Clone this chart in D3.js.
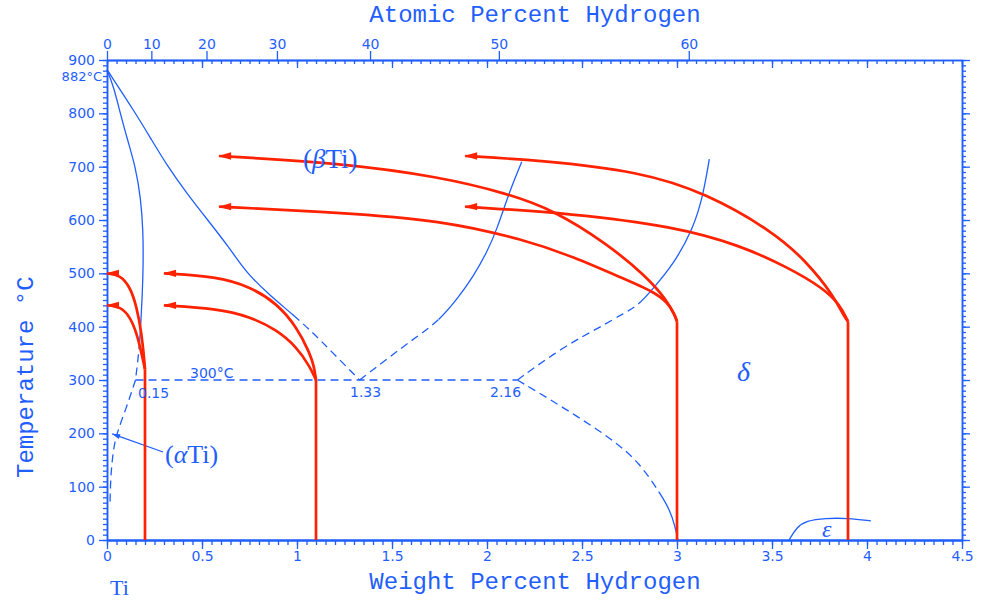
<!DOCTYPE html>
<html><head><meta charset="utf-8">
<script src="https://cdn.jsdelivr.net/npm/d3@7"></script>
<style>body{margin:0;background:#fff}</style>
</head><body><svg id="c" width="984" height="600"></svg>
<script>
// ---------- data ----------
const wtTicks = [0, 0.5, 1, 1.5, 2, 2.5, 3, 3.5, 4, 4.5];
const tempTicks = [0, 100, 200, 300, 400, 500, 600, 700, 800, 900];
const atTicks = [0, 10, 20, 30, 40, 50, 60];
const massH = 1.008, massTi = 47.867;

// phase boundaries [wt% H, °C]; the index says where solid/dashed style changes
const alphaBoundary = [[0,882],[0.035,850],[0.07,800],[0.108,750],[0.15,700],[0.178,640],[0.19,580],[0.191,520],[0.186,460],[0.177,400],[0.172,372],[0.162,335],[0.15,300]];
const alphaSplit = 10;
const betaBoundary = [[0,882],[0.151,800],[0.235,750],[0.32,700],[0.42,650],[0.53,600],[0.64,550],[0.735,500],[0.86,458],[0.98,422],[1.08,390],[1.174,356],[1.33,300]];
const betaSplit = 9;
const bdLeft = [[1.33,300],[1.49,344],[1.63,381],[1.75,412],[1.85,455],[1.928,494],[2.0,540],[2.051,581],[2.121,656],[2.183,709]];
const bdLeftSplit = 3;
const bdRight = [[2.16,300],[2.4,362],[2.6,400],[2.72,425],[2.8,441],[2.875,472],[2.98,516],[3.086,584],[3.138,647],[3.17,714]];
const bdRightSplit = 4;
const deltaLow = [[2.16,300],[2.4,249],[2.665,188],[2.805,144],[2.91,88],[2.963,56],[2.99,25],[3.005,0]];
const deltaLowSplit = 4;
const alphaSolvusDash = [[0.15,300],[0.104,250],[0.051,200],[0.033,169],[0.019,119],[0.016,69]];
const eutectoid = [[0.15,300],[2.16,300]];
const epsilon = [[3.59,0],[3.63,24],[3.68,36],[3.78,41],[3.9,41],[4.02,36]];

// red paths: vertical stems and curved branches ending in arrows
const stems = [[0.2,320],[1.1,300],[3.0,410],[3.9,410]];
const branches = [
  [[0.2,320],[0.196,338],[0.182,388],[0.156,438],[0.121,475],[0.068,497],[0,500]],
  [[0.2,320],[0.182,350],[0.156,388],[0.121,419],[0.068,438],[0,440]],
  [[1.1,300],[1.09,325],[1.068,350],[0.998,400],[0.893,444],[0.753,475],[0.577,494],[0.3,500]],
  [[1.1,300],[1.068,325],[0.998,362],[0.893,394],[0.753,419],[0.577,434],[0.3,440]],
  [[3.0,410],[2.99,420],[2.946,450],[2.84,494],[2.63,556],[2.349,619],[2.104,650],[1.753,681],[1.226,707],[0.59,720]],
  [[3.0,410],[2.985,425],[2.95,445],[2.88,465],[2.718,490],[2.454,531],[2.2,563],[1.753,600],[1.226,614],[0.59,625]],
  [[3.9,410],[3.884,416],[3.823,459],[3.682,522],[3.507,578],[3.156,650],[2.805,691],[2.279,712],[1.885,720]],
  [[3.9,410],[3.858,441],[3.77,472],[3.595,509],[3.332,553],[2.981,588],[2.454,612],[1.885,625]]
];
const alphaPointer = [[0.295,165],[0.027,199]];

// ---------- drawing ----------
const BLUE = "#1f5eff", RED = "#ff2200";
const svg = d3.select("#c");
const x = d3.scaleLinear().domain([0, 4.5]).range([107, 962]);
const y = d3.scaleLinear().domain([0, 900]).range([540, 60]);
const wtFromAt = a => a * massH / (a * massH + (100 - a) * massTi) * 100;
const xa = d3.scaleLinear().domain(atTicks).range(atTicks.map(a => x(wtFromAt(a))));

function style(g, w) {
  g.select(".domain").attr("stroke", BLUE).attr("stroke-width", w);
  g.selectAll(".tick line").attr("stroke", BLUE).attr("stroke-width", 1.3);
  g.selectAll("text").attr("fill", BLUE).attr("font-family", "DejaVu Sans").attr("font-size", 14);
}
// bottom
svg.append("g").attr("transform", "translate(0,540)")
  .call(d3.axisBottom(x).tickValues(x.ticks(90)).tickSize(5).tickFormat("").tickSizeOuter(0)).call(style, 2);
svg.append("g").attr("transform", "translate(0,540)")
  .call(d3.axisBottom(x).tickValues(wtTicks).tickSize(9).tickPadding(2).tickFormat(d => d).tickSizeOuter(0)).call(style, 2);
// top (inner wt ticks)
svg.append("g").attr("transform", "translate(0,60)")
  .call(d3.axisBottom(x).tickValues(x.ticks(90)).tickSize(4).tickFormat("").tickSizeOuter(0)).call(style, 1.5);
svg.append("g").attr("transform", "translate(0,60)")
  .call(d3.axisBottom(x).tickValues(wtTicks).tickSize(8).tickFormat("").tickSizeOuter(0)).call(style, 1.5);
// top atomic percent
svg.append("g").attr("transform", "translate(0,60)")
  .call(d3.axisTop(xa).tickValues(atTicks).tickSize(9).tickPadding(2).tickFormat(d => d).tickSizeOuter(0)).call(style, 1.5);
// left
svg.append("g").attr("transform", "translate(107,0)")
  .call(d3.axisLeft(y).tickValues(y.ticks(90)).tickSize(4).tickFormat("").tickSizeOuter(0)).call(style, 1.5);
svg.append("g").attr("transform", "translate(107,0)")
  .call(d3.axisLeft(y).tickValues(tempTicks).tickSize(8).tickPadding(4).tickFormat(d => d).tickSizeOuter(0)).call(style, 1.5);
// right
svg.append("g").attr("transform", "translate(962,0)")
  .call(d3.axisRight(y).tickValues(y.ticks(90)).tickSize(4).tickFormat("").tickSizeOuter(0)).call(style, 1.5);
svg.append("g").attr("transform", "translate(962,0)")
  .call(d3.axisRight(y).tickValues(tempTicks).tickSize(8).tickFormat("").tickSizeOuter(0)).call(style, 1.5);

// blue phase lines
const lineS = d3.line().x(d => x(d[0])).y(d => y(d[1])).curve(d3.curveBasis);
const lineL = d3.line().x(d => x(d[0])).y(d => y(d[1]));
const gB = svg.append("g");
function mixed(points, split, dashFirst) {
  const p = gB.append("path").datum(points).attr("d", lineS).attr("fill", "none")
    .attr("stroke", BLUE).attr("stroke-width", 1.3);
  const node = p.node(), L = node.getTotalLength();
  const tx = x(points[split][0]), ty = y(points[split][1]);
  let best = 0, bd = Infinity;
  for (let s = 0; s <= L; s += 0.5) {
    const q = node.getPointAtLength(s);
    const d = (q.x - tx) ** 2 + (q.y - ty) ** 2;
    if (d < bd) { bd = d; best = s; }
  }
  const arr = [];
  if (dashFirst) {
    let s = 0;
    while (s + 13 <= best) { arr.push(8, 5); s += 13; }
    const r = best - s;
    arr.push(Math.min(r, 8), Math.max(r - 8, 0), L + 20, 0);
  } else {
    arr.push(best, 0);
    let s = best;
    while (s < L + 13) { arr.push(8, 5); s += 13; }
  }
  p.attr("stroke-dasharray", arr.join(","));
}
mixed(alphaBoundary, alphaSplit, false);
mixed(betaBoundary, betaSplit, false);
mixed(bdLeft, bdLeftSplit, true);
mixed(bdRight, bdRightSplit, true);
mixed(deltaLow, deltaLowSplit, true);
gB.selectAll(".dash").data([alphaSolvusDash, eutectoid]).join("path").attr("class", "dash")
  .attr("d", lineS).attr("fill", "none").attr("stroke", BLUE).attr("stroke-width", 1.3).attr("stroke-dasharray", "8,5");
gB.append("path").datum(epsilon).attr("d", lineS).attr("fill", "none").attr("stroke", BLUE).attr("stroke-width", 1.3);

// pointer arrow for (alphaTi)
const defs = svg.append("defs");
defs.append("marker").attr("id", "bh").attr("markerUnits", "userSpaceOnUse")
  .attr("viewBox", "0 0 10 8").attr("markerWidth", 10).attr("markerHeight", 8)
  .attr("refX", 9).attr("refY", 4).attr("orient", "auto")
  .append("path").attr("d", "M1,1.5 L9,4 L1,6.5 Z").attr("fill", BLUE);
svg.append("path").datum(alphaPointer).attr("d", lineL).attr("fill", "none")
  .attr("stroke", BLUE).attr("stroke-width", 1.2).attr("marker-end", "url(#bh)");

// red paths
defs.append("marker").attr("id", "rh").attr("markerUnits", "userSpaceOnUse")
  .attr("viewBox", "0 0 16 12").attr("markerWidth", 16).attr("markerHeight", 12)
  .attr("refX", 1).attr("refY", 6).attr("orient", "0")
  .append("path").attr("d", "M0,6 L13,2.3 L13,9.7 Z").attr("fill", RED);
svg.append("g").selectAll("line").data(stems).join("line")
  .attr("x1", d => x(d[0])).attr("x2", d => x(d[0]))
  .attr("y1", y(0)).attr("y2", d => y(d[1]))
  .attr("stroke", RED).attr("stroke-width", 2.7);
svg.append("g").selectAll("path").data(branches).join("path")
  .attr("d", lineS).attr("fill", "none").attr("stroke", RED).attr("stroke-width", 2.7)
  .attr("marker-end", "url(#rh)");

// texts
const t = (txt, px, py, o = {}) => svg.append("text").attr("x", px).attr("y", py)
  .attr("fill", BLUE).attr("font-family", o.f || "DejaVu Sans").attr("font-size", o.s || 14)
  .attr("text-anchor", o.a || "start").text(txt);
t("Atomic Percent Hydrogen", 535, 22, {f: "Liberation Mono", s: 24, a: "middle"});
t("Weight Percent Hydrogen", 535, 589, {f: "Liberation Mono", s: 24, a: "middle"});
svg.append("text").attr("transform", "translate(33,478) rotate(-90)")
  .attr("fill", BLUE).attr("font-family", "Liberation Mono").attr("font-size", 24).text("Temperature °C");
t("882°C", 102, 80.5, {a: "end", s: 13});
t("300°C", 190, 378);
t("0.15", 138, 398);
t("1.33", 350, 397);
t("2.16", 490, 397);
t("Ti", 110, 595, {f: "Liberation Serif", s: 22});
const lab = (parts, px, py, s) => {
  const e = svg.append("text").attr("x", px).attr("y", py).attr("fill", BLUE)
    .attr("font-family", "Liberation Serif").attr("font-size", s);
  parts.forEach(p => e.append("tspan").attr("font-style", p[1] ? "italic" : null).text(p[0]));
};
lab([["(",0],["α",1],["Ti)",0]], 165, 463, 26);
lab([["(",0],["β",1],["Ti)",0]], 303, 168, 27);
lab([["δ",1]], 737, 381, 28);
lab([["ε",1]], 822, 537, 24);
</script></body></html>
